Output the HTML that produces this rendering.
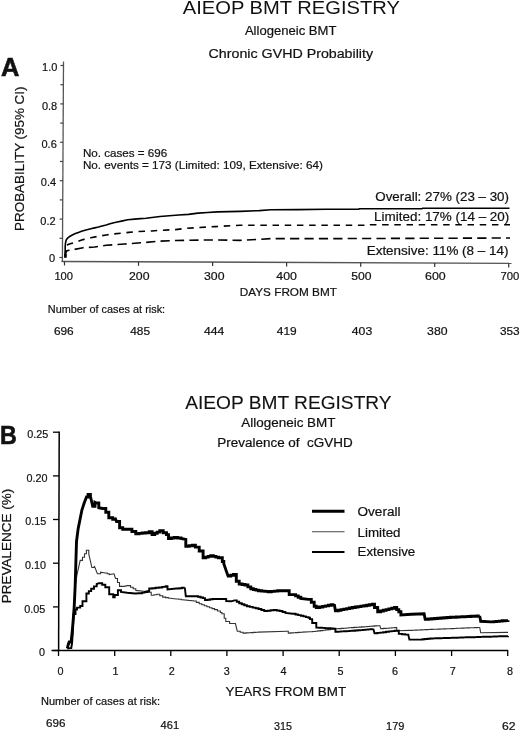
<!DOCTYPE html>
<html><head><meta charset="utf-8"><title>AIEOP BMT Registry</title>
<style>
html,body{margin:0;padding:0;background:#fff;}
svg{display:block;will-change:transform;}
text{font-family:'Liberation Sans', sans-serif;fill:#111;white-space:pre;stroke:#111;stroke-width:0.2px;}
</style></head>
<body>
<svg width="520" height="731" viewBox="0 0 520 731">

<text x="182.8" y="14.1" font-size="17.8" textLength="217.1" lengthAdjust="spacingAndGlyphs" style="stroke-width:0">AIEOP BMT REGISTRY</text>
<text x="244.9" y="34.8" font-size="13" textLength="91.6" lengthAdjust="spacingAndGlyphs">Allogeneic BMT</text>
<text x="208.6" y="57.5" font-size="12.5" textLength="164.5" lengthAdjust="spacingAndGlyphs">Chronic GVHD Probability</text>
<text x="1.0" y="76.0" font-size="26.6" font-weight="bold" textLength="18.4" lengthAdjust="spacingAndGlyphs" style="stroke-width:0.6px">A</text>
<g transform="translate(24.3,230.9) rotate(-90)"><text x="0.0" y="0.0" font-size="13.2" textLength="144.4" lengthAdjust="spacingAndGlyphs">PROBABILITY (95% CI)</text></g>
<line x1="63.5" y1="61.5" x2="62.4" y2="262" stroke="#555" stroke-width="1.3"/>
<line x1="61.5" y1="261.5" x2="511.5" y2="263.4" stroke="#555" stroke-width="1.4"/>
<line x1="59.4" y1="257.5" x2="62.4" y2="257.5" stroke="#444" stroke-width="1.2"/>
<line x1="59.5" y1="238.3" x2="62.5" y2="238.3" stroke="#444" stroke-width="1.2"/>
<line x1="59.6" y1="219.1" x2="62.6" y2="219.1" stroke="#444" stroke-width="1.2"/>
<line x1="59.7" y1="199.9" x2="62.7" y2="199.9" stroke="#444" stroke-width="1.2"/>
<line x1="59.8" y1="180.7" x2="62.8" y2="180.7" stroke="#444" stroke-width="1.2"/>
<line x1="60.0" y1="161.5" x2="63.0" y2="161.5" stroke="#444" stroke-width="1.2"/>
<line x1="60.1" y1="142.3" x2="63.1" y2="142.3" stroke="#444" stroke-width="1.2"/>
<line x1="60.2" y1="123.1" x2="63.2" y2="123.1" stroke="#444" stroke-width="1.2"/>
<line x1="60.3" y1="103.9" x2="63.3" y2="103.9" stroke="#444" stroke-width="1.2"/>
<line x1="60.4" y1="84.7" x2="63.4" y2="84.7" stroke="#444" stroke-width="1.2"/>
<line x1="60.5" y1="65.5" x2="63.5" y2="65.5" stroke="#444" stroke-width="1.2"/>
<text x="57.4" y="71.1" font-size="11" text-anchor="end">1.0</text>
<text x="57.2" y="109.5" font-size="11" text-anchor="end">0.8</text>
<text x="56.8" y="147.9" font-size="11" text-anchor="end">0.6</text>
<text x="56.1" y="186.3" font-size="11" text-anchor="end">0.4</text>
<text x="55.6" y="224.7" font-size="11" text-anchor="end">0.2</text>
<text x="55.2" y="262.3" font-size="11" text-anchor="end">0</text>
<line x1="64.5" y1="261.5" x2="64.5" y2="265.5" stroke="#333" stroke-width="1.2"/>
<line x1="138.5" y1="261.8" x2="138.5" y2="265.8" stroke="#333" stroke-width="1.2"/>
<line x1="212.6" y1="262.1" x2="212.6" y2="266.1" stroke="#333" stroke-width="1.2"/>
<line x1="286.6" y1="262.5" x2="286.6" y2="266.5" stroke="#333" stroke-width="1.2"/>
<line x1="360.7" y1="262.8" x2="360.7" y2="266.8" stroke="#333" stroke-width="1.2"/>
<line x1="434.7" y1="263.1" x2="434.7" y2="267.1" stroke="#333" stroke-width="1.2"/>
<line x1="508.7" y1="263.4" x2="508.7" y2="267.4" stroke="#333" stroke-width="1.2"/>
<text x="54.4" y="280.0" font-size="11" textLength="18.6" lengthAdjust="spacingAndGlyphs">100</text>
<text x="129.0" y="280.0" font-size="11" textLength="20.5" lengthAdjust="spacingAndGlyphs">200</text>
<text x="204.0" y="280.0" font-size="11" textLength="20.5" lengthAdjust="spacingAndGlyphs">300</text>
<text x="276.3" y="280.0" font-size="11" textLength="20.6" lengthAdjust="spacingAndGlyphs">400</text>
<text x="351.3" y="280.0" font-size="11" textLength="20.3" lengthAdjust="spacingAndGlyphs">500</text>
<text x="425.0" y="280.0" font-size="11" textLength="20.7" lengthAdjust="spacingAndGlyphs">600</text>
<text x="500.4" y="280.0" font-size="11" textLength="18.8" lengthAdjust="spacingAndGlyphs">700</text>
<text x="239.8" y="296.2" font-size="11" textLength="97.1" lengthAdjust="spacingAndGlyphs">DAYS FROM BMT</text>
<text x="47.8" y="312.6" font-size="10.5" textLength="117.3" lengthAdjust="spacingAndGlyphs">Number of cases at risk:</text>
<text x="53.9" y="335.2" font-size="10.5" textLength="19.8" lengthAdjust="spacingAndGlyphs">696</text>
<text x="130.2" y="335.2" font-size="10.5" textLength="19.8" lengthAdjust="spacingAndGlyphs">485</text>
<text x="204.1" y="335.2" font-size="10.5" textLength="20.3" lengthAdjust="spacingAndGlyphs">444</text>
<text x="276.8" y="335.2" font-size="10.5" textLength="19.9" lengthAdjust="spacingAndGlyphs">419</text>
<text x="351.8" y="335.2" font-size="10.5" textLength="20.4" lengthAdjust="spacingAndGlyphs">403</text>
<text x="427.1" y="335.2" font-size="10.5" textLength="20.5" lengthAdjust="spacingAndGlyphs">380</text>
<text x="499.9" y="335.2" font-size="10.5" textLength="19.7" lengthAdjust="spacingAndGlyphs">353</text>
<text x="82.9" y="156.9" font-size="11" textLength="84.4" lengthAdjust="spacingAndGlyphs">No. cases = 696</text>
<text x="82.9" y="169.2" font-size="11" textLength="240.1" lengthAdjust="spacingAndGlyphs">No. events = 173 (Limited: 109, Extensive: 64)</text>
<text x="375.3" y="200.9" font-size="12.2" textLength="133.7" lengthAdjust="spacingAndGlyphs">Overall: 27% (23 – 30)</text>
<text x="374.1" y="221.3" font-size="12.2" textLength="135.2" lengthAdjust="spacingAndGlyphs">Limited: 17% (14 – 20)</text>
<text x="366.7" y="255.0" font-size="12.2" textLength="141.8" lengthAdjust="spacingAndGlyphs">Extensive: 11% (8 – 14)</text>
<polyline points="65.2,257.5 65.2,246.0 65.5,243.0 66.2,240.0 67.5,238.2 69.2,236.8 72.3,235.0 75.4,233.6 78.5,232.4 81.5,231.3 86.0,230.0 90.8,228.8 94.6,227.9 98.5,227.0 102.0,226.0 106.2,225.0 110.0,223.8 113.8,222.8 117.3,222.0 121.5,221.1 127.7,219.7 134.6,219.1 140.4,218.6 146.1,218.3 151.9,217.5 160.0,216.5 169.2,215.8 178.8,215.0 188.5,214.4 198.0,213.1 207.7,212.5 217.3,211.9 240.0,211.4 259.2,210.6 270.8,209.7 297.7,209.6 326.5,209.3 358.8,209.3 359.0,208.8 422.0,208.8 422.5,208.3 509.5,208.3" fill="none" stroke="#000" stroke-width="1.6" stroke-linejoin="round"/>
<polyline points="65.5,257.0 65.5,250.0 66.2,246.0 68.0,244.5 71.0,243.5 75.4,242.3 79.0,241.0 83.1,239.6 90.8,237.8 97.7,236.4 106.2,235.0 113.0,234.0 121.5,233.1 128.8,232.4 136.9,231.6 151.9,231.0 158.8,230.4 175.5,229.6 187.4,228.2 215.0,226.6 240.0,225.2 370.0,225.2 370.5,224.7 510.0,224.7" fill="none" stroke="#000" stroke-width="1.6" stroke-dasharray="6.5 5.7"/>
<polyline points="65.5,257.0 65.5,253.5 66.0,252.3 66.9,250.8 70.8,250.0 73.8,249.5 83.1,247.7 94.6,247.0 106.2,245.3 124.7,244.0 140.8,242.8 159.3,241.2 175.5,240.5 215.0,239.9 240.0,240.4 259.2,239.4 270.8,238.6 340.0,238.6 510.0,238.0" fill="none" stroke="#000" stroke-width="1.6" stroke-dasharray="9.2 5.2"/>
<rect x="64.2" y="253.8" width="2.4" height="4" fill="#000"/>
<text x="185.2" y="408.8" font-size="18" textLength="206.4" lengthAdjust="spacingAndGlyphs" style="stroke-width:0.1px">AIEOP BMT REGISTRY</text>
<text x="241.3" y="426.5" font-size="12.6" textLength="94.2" lengthAdjust="spacingAndGlyphs">Allogeneic BMT</text>
<text x="217.3" y="447.3" font-size="12" textLength="135.4" lengthAdjust="spacingAndGlyphs">Prevalence of  cGVHD</text>
<text x="0.1" y="443.7" font-size="25.3" font-weight="bold" textLength="16.8" lengthAdjust="spacingAndGlyphs" style="stroke-width:0.6px">B</text>
<g transform="translate(11.2,603.2) rotate(-90)"><text x="0.0" y="0.0" font-size="12.6" textLength="114.5" lengthAdjust="spacingAndGlyphs">PREVALENCE (%)</text></g>
<line x1="59.2" y1="431.5" x2="58.6" y2="651" stroke="#000" stroke-width="1.5"/>
<line x1="51.5" y1="650.5" x2="508.2" y2="650.5" stroke="#000" stroke-width="1.5"/>
<line x1="53" y1="650.5" x2="59" y2="650.5" stroke="#000" stroke-width="1.3"/>
<line x1="53" y1="606.9" x2="59" y2="606.9" stroke="#000" stroke-width="1.3"/>
<line x1="53" y1="563.2" x2="59" y2="563.2" stroke="#000" stroke-width="1.3"/>
<line x1="53" y1="519.5" x2="59" y2="519.5" stroke="#000" stroke-width="1.3"/>
<line x1="53" y1="475.9" x2="59" y2="475.9" stroke="#000" stroke-width="1.3"/>
<line x1="53" y1="432.2" x2="59" y2="432.2" stroke="#000" stroke-width="1.3"/>
<text x="48.3" y="437.8" font-size="10.8" text-anchor="end">0.25</text>
<text x="47.6" y="481.5" font-size="10.8" text-anchor="end">0.20</text>
<text x="46.2" y="525.4" font-size="10.8" text-anchor="end">0.15</text>
<text x="45.9" y="569.2" font-size="10.8" text-anchor="end">0.10</text>
<text x="45.2" y="613.1" font-size="10.8" text-anchor="end">0.05</text>
<text x="44.9" y="655.9" font-size="10.8" text-anchor="end">0</text>
<line x1="58.5" y1="650.5" x2="58.5" y2="656" stroke="#000" stroke-width="1.3"/>
<line x1="114.7" y1="650.5" x2="114.7" y2="656" stroke="#000" stroke-width="1.3"/>
<line x1="170.8" y1="650.5" x2="170.8" y2="656" stroke="#000" stroke-width="1.3"/>
<line x1="226.9" y1="650.5" x2="226.9" y2="656" stroke="#000" stroke-width="1.3"/>
<line x1="283.1" y1="650.5" x2="283.1" y2="656" stroke="#000" stroke-width="1.3"/>
<line x1="339.2" y1="650.5" x2="339.2" y2="656" stroke="#000" stroke-width="1.3"/>
<line x1="395.4" y1="650.5" x2="395.4" y2="656" stroke="#000" stroke-width="1.3"/>
<line x1="451.6" y1="650.5" x2="451.6" y2="656" stroke="#000" stroke-width="1.3"/>
<line x1="507.7" y1="650.5" x2="507.7" y2="656" stroke="#000" stroke-width="1.3"/>
<text x="60.5" y="675.4" font-size="10.8" text-anchor="middle">0</text>
<text x="115.5" y="675.4" font-size="10.8" text-anchor="middle">1</text>
<text x="171.8" y="675.4" font-size="10.8" text-anchor="middle">2</text>
<text x="226.7" y="675.4" font-size="10.8" text-anchor="middle">3</text>
<text x="283.5" y="675.4" font-size="10.8" text-anchor="middle">4</text>
<text x="340.4" y="675.4" font-size="10.8" text-anchor="middle">5</text>
<text x="394.9" y="675.4" font-size="10.8" text-anchor="middle">6</text>
<text x="452.7" y="675.4" font-size="10.8" text-anchor="middle">7</text>
<text x="509.9" y="675.4" font-size="10.8" text-anchor="middle">8</text>
<text x="225.5" y="695.6" font-size="12.4" textLength="120.6" lengthAdjust="spacingAndGlyphs">YEARS FROM BMT</text>
<text x="41.0" y="704.8" font-size="10.5" textLength="119.0" lengthAdjust="spacingAndGlyphs">Number of cases at risk:</text>
<text x="45.9" y="727.3" font-size="10.5" textLength="19.5" lengthAdjust="spacingAndGlyphs">696</text>
<text x="160.6" y="728.8" font-size="10.5" textLength="18.6" lengthAdjust="spacingAndGlyphs">461</text>
<text x="273.9" y="729.5" font-size="10.5" textLength="18.0" lengthAdjust="spacingAndGlyphs">315</text>
<text x="386.1" y="730.0" font-size="10.5" textLength="18.3" lengthAdjust="spacingAndGlyphs">179</text>
<text x="502.0" y="730.0" font-size="10.5" textLength="13.5" lengthAdjust="spacingAndGlyphs">62</text>
<line x1="312" y1="511.25" x2="344.5" y2="511.25" stroke="#000" stroke-width="2.8"/>
<line x1="312" y1="531.75" x2="344.5" y2="531.75" stroke="#333" stroke-width="0.9"/>
<line x1="312" y1="552" x2="344.5" y2="552" stroke="#000" stroke-width="1.9"/>
<text x="357.5" y="516.2" font-size="12.3" textLength="43.0" lengthAdjust="spacingAndGlyphs">Overall</text>
<text x="357.5" y="536.6" font-size="12.3" textLength="43.0" lengthAdjust="spacingAndGlyphs">Limited</text>
<text x="357.5" y="556.3" font-size="12.3" textLength="57.8" lengthAdjust="spacingAndGlyphs">Extensive</text>
<polyline points="68.2,648.5 71.5,648.5 71.5,647.0 72.6,632.0 73.8,615.0 75.4,585.0 77.0,574.6 80.2,560.4 82.5,560.4 82.5,557.3 84.5,557.3 84.5,553.8 86.4,553.8 86.4,550.2 88.8,550.2 88.8,554.2 91.9,567.5 94.3,567.5 94.3,565.9 97.4,573.8 100.6,573.8 100.6,572.2 105.3,573.0 107.2,573.0 107.2,573.8 109.2,573.8 109.2,574.6 114.0,573.8 115.5,578.5 117.5,578.5 117.5,582.5 119.5,582.5 119.5,586.4 124.2,586.4 127.3,585.6 130.5,585.6 130.5,587.2 133.2,587.2 133.2,588.8 135.8,588.8 135.8,590.4 143.5,591.3 147.3,591.3 147.3,592.3 151.2,592.3 151.2,595.2 154.1,595.2 154.1,594.7 156.9,594.7 156.9,594.2 159.8,594.2 159.8,595.7 162.7,595.7 162.7,597.1 165.6,597.1 165.6,597.6 168.5,597.6 168.5,598.1 176.2,599.0 178.7,599.0 178.7,599.3 181.3,599.3 181.3,599.7 183.8,599.7 183.8,600.0 186.2,600.0 186.2,600.2 188.7,600.2 188.7,600.5 191.1,600.5 191.1,600.8 193.5,600.8 193.5,601.0 196.3,601.0 196.3,602.4 199.2,602.4 199.2,603.8 201.8,603.8 201.8,604.8 204.3,604.8 204.3,605.7 206.9,605.7 206.9,606.7 209.5,606.7 209.5,607.7 212.0,607.7 212.0,608.6 214.6,608.6 214.6,609.6 217.5,609.6 217.5,611.0 220.4,611.0 220.4,612.5 221.9,612.5 221.9,613.8 224.2,613.8 224.2,618.3 225.8,618.3 225.8,621.5 229.6,621.5 229.6,623.5 235.4,623.5 237.3,631.2 240.2,631.2 240.2,632.2 243.1,632.2 243.1,633.1 245.7,633.1 245.7,632.9 248.2,632.9 248.2,632.8 250.8,632.8 250.8,632.6 253.4,632.6 253.4,632.4 255.9,632.4 255.9,632.3 258.5,632.3 258.5,632.1 287.3,631.2 288.3,631.2 288.3,633.1 290.7,633.1 290.7,632.9 293.1,632.9 293.1,632.8 295.5,632.8 295.5,632.6 297.9,632.6 297.9,632.4 300.3,632.4 300.3,632.3 302.7,632.3 302.7,632.1 310.0,631.8 312.6,631.8 312.6,631.5 315.2,631.5 315.2,631.2 317.8,631.2 317.8,630.9 320.4,630.9 320.4,630.6 322.9,630.6 322.9,630.2 325.5,630.2 325.5,629.9 328.1,629.9 328.1,629.6 330.7,629.6 330.7,629.3 333.3,629.3 333.3,629.0 335.9,629.0 335.9,628.8 338.5,628.8 338.5,628.6 341.1,628.6 341.1,628.4 343.6,628.4 343.6,628.2 346.2,628.2 346.2,628.0 348.8,628.0 348.8,627.8 351.4,627.8 351.4,627.6 354.0,627.6 354.0,627.4 356.6,627.4 356.6,627.2 359.1,627.2 359.1,627.1 361.7,627.1 361.7,626.9 364.3,626.9 364.3,626.7 366.9,626.7 366.9,626.5 369.5,626.5 369.5,626.3 372.1,626.3 372.1,626.1 374.6,626.1 374.6,625.9 377.2,625.9 377.2,625.7 379.8,625.7 379.8,625.5 380.8,628.6 383.6,628.6 383.6,628.4 386.3,628.4 386.3,628.2 389.1,628.2 389.1,628.0 391.8,628.0 391.8,627.8 394.6,627.8 394.6,627.6 396.7,627.6 396.7,630.7 410.0,630.4 412.5,630.4 412.5,630.3 415.1,630.3 415.1,630.1 417.6,630.1 417.6,630.0 420.1,630.0 420.1,629.9 422.6,629.9 422.6,629.8 425.1,629.8 425.1,629.6 427.7,629.6 427.7,629.5 430.2,629.5 430.2,629.4 432.8,629.4 432.8,629.3 435.4,629.3 435.4,629.2 438.0,629.2 438.0,629.1 440.6,629.1 440.6,629.0 443.2,629.0 443.2,628.9 445.8,628.9 445.8,628.8 448.4,628.8 448.4,628.7 451.0,628.7 451.0,628.6 453.6,628.6 453.6,628.5 456.3,628.5 456.3,628.3 458.9,628.3 458.9,628.2 461.5,628.2 461.5,628.1 464.1,628.1 464.1,628.0 466.7,628.0 466.7,627.9 469.3,627.9 469.3,627.8 471.9,627.8 471.9,627.7 474.5,627.7 474.5,627.6 477.1,627.6 477.1,627.5 479.7,627.5 479.7,627.4 480.7,632.8 508.0,632.4" fill="none" stroke="#333" stroke-width="1.1" stroke-linejoin="miter"/>
<polyline points="67.3,648.6 71.3,648.0 72.2,642.0 72.8,630.0 73.6,614.0 75.5,614.0 75.5,609.5 77.0,609.5 77.0,607.6 80.2,607.6 80.2,606.0 82.5,606.0 82.5,601.3 86.4,601.3 86.4,593.5 88.8,593.5 88.8,591.1 91.2,591.1 91.2,588.7 94.0,588.7 94.0,586.4 96.7,586.4 96.7,584.0 99.0,583.2 102.2,583.2 102.2,584.8 105.3,584.8 105.3,587.2 109.2,587.2 109.2,594.2 113.2,594.2 113.2,597.4 114.7,597.4 114.7,595.0 117.9,595.0 117.9,590.3 121.0,590.3 121.0,591.9 127.3,592.7 135.0,593.5 139.6,593.3 142.2,593.3 142.2,592.6 144.7,592.6 144.7,592.0 147.3,592.0 147.3,591.3 149.2,591.3 149.2,588.5 152.4,588.5 152.4,588.2 155.6,588.2 155.6,587.8 158.8,587.8 158.8,587.5 162.2,587.5 162.2,586.9 165.6,586.9 165.6,586.2 167.5,586.2 167.5,589.4 176.2,588.5 179.1,588.5 179.1,588.2 181.9,588.2 181.9,587.8 184.8,587.8 184.8,587.5 185.8,596.2 195.4,596.2 198.0,596.2 198.0,596.8 200.5,596.8 200.5,597.5 203.1,597.5 203.1,598.1 205.0,598.1 205.0,600.0 207.6,600.0 207.6,599.7 210.1,599.7 210.1,599.3 212.7,599.3 212.7,599.0 224.2,599.0 226.2,599.0 226.2,601.0 231.5,601.3 234.4,600.4 236.8,600.4 236.8,601.8 239.2,601.8 239.2,603.3 241.8,603.3 241.8,604.3 244.3,604.3 244.3,605.2 246.9,605.2 246.9,606.2 249.8,606.2 249.8,606.9 252.7,606.9 252.7,607.6 255.6,607.6 255.6,608.3 258.5,608.3 258.5,609.0 261.4,609.0 261.4,610.0 264.2,610.0 264.2,611.0 267.4,611.0 267.4,610.7 270.6,610.7 270.6,610.3 273.8,610.3 273.8,610.0 276.7,610.0 276.7,610.5 279.6,610.5 279.6,611.0 282.5,611.0 282.5,612.0 285.4,612.0 285.4,612.9 293.0,613.8 295.6,613.8 295.6,614.5 298.2,614.5 298.2,615.1 300.8,615.1 300.8,615.8 303.4,615.8 303.4,616.4 305.9,616.4 305.9,617.1 308.5,617.1 308.5,617.7 310.0,617.7 310.0,619.1 312.2,619.1 312.2,623.0 316.3,623.0 316.3,627.6 319.1,627.6 319.1,627.8 322.0,627.8 322.0,627.9 324.8,627.9 324.8,628.1 327.6,628.1 327.6,628.3 330.5,628.3 330.5,628.4 333.3,628.4 333.3,628.6 335.4,628.6 335.4,631.8 338.2,631.8 338.2,631.6 341.0,631.6 341.0,631.4 343.9,631.4 343.9,631.2 346.7,631.2 346.7,631.1 349.5,631.1 349.5,630.9 352.3,630.9 352.3,630.7 354.9,630.7 354.9,630.5 357.6,630.5 357.6,630.3 360.2,630.3 360.2,630.1 362.9,630.1 362.9,629.9 365.5,629.9 365.5,629.6 368.1,629.6 368.1,629.4 370.8,629.4 370.8,629.2 373.4,629.2 373.4,629.0 374.5,633.3 377.4,633.3 377.4,632.9 380.2,632.9 380.2,632.6 383.1,632.6 383.1,632.2 386.0,632.2 386.0,631.8 388.9,631.8 388.9,631.4 391.7,631.4 391.7,631.1 394.6,631.1 394.6,630.7 398.8,630.7 398.8,633.9 402.0,633.9 402.0,634.3 405.1,634.3 405.1,634.6 408.3,634.6 408.3,635.0 409.4,639.6 420.0,639.6 422.6,639.6 422.6,639.3 425.1,639.3 425.1,639.0 427.6,639.0 427.6,638.8 430.2,638.8 430.2,638.5 433.0,638.5 433.0,638.4 435.7,638.4 435.7,638.3 438.5,638.3 438.5,638.2 441.2,638.2 441.2,638.1 444.0,638.1 444.0,638.0 446.7,638.0 446.7,638.0 449.5,638.0 449.5,637.9 452.2,637.9 452.2,637.8 455.0,637.8 455.0,637.7 457.7,637.7 457.7,637.6 460.5,637.6 460.5,637.5 463.3,637.5 463.3,637.4 466.1,637.4 466.1,637.3 468.9,637.3 468.9,637.3 471.7,637.3 471.7,637.2 474.5,637.2 474.5,637.1 477.3,637.1 477.3,637.0 480.1,637.0 480.1,636.9 482.9,636.9 482.9,636.8 485.6,636.8 485.6,636.8 488.4,636.8 488.4,636.7 491.2,636.7 491.2,636.6 494.0,636.6 494.0,636.5 496.8,636.5 496.8,636.4 499.6,636.4 499.6,636.3 502.4,636.3 502.4,636.3 505.2,636.3 505.2,636.2 508.0,636.2 508.0,636.1" fill="none" stroke="#000" stroke-width="1.9" stroke-linejoin="miter"/>
<polyline points="67.3,648.3 68.3,644.5 69.2,642.0 71.2,642.0 71.2,641.0 72.2,632.0 73.2,620.0 74.2,607.0 75.2,585.0 76.5,541.5 78.1,529.0 79.6,521.5 81.9,510.0 84.2,503.0 86.5,497.0 88.1,497.0 88.1,494.4 90.4,494.4 90.4,496.2 92.7,506.2 95.0,506.2 95.0,502.3 96.5,503.0 98.8,503.0 98.8,507.7 102.7,508.5 105.8,508.5 105.8,512.3 108.8,512.3 108.8,517.7 112.7,517.7 112.7,519.2 115.0,519.2 115.0,517.7 116.5,521.5 119.6,521.5 119.6,527.7 122.7,527.7 122.7,529.2 128.8,529.2 131.9,529.2 131.9,531.5 135.8,531.5 135.8,533.7 139.0,533.7 139.0,533.4 142.2,533.4 142.2,533.0 145.4,533.0 145.4,532.7 149.2,532.7 149.2,531.7 152.1,531.7 152.1,534.6 154.7,534.6 154.7,533.3 157.2,533.3 157.2,532.1 159.8,532.1 159.8,530.8 163.2,530.8 163.2,532.7 166.5,532.7 166.5,534.6 168.5,534.6 168.5,538.5 171.3,538.5 171.3,538.0 174.2,538.0 174.2,537.5 177.6,537.5 177.6,538.0 181.0,538.0 181.0,538.5 185.8,539.4 185.8,546.2 189.2,546.2 189.2,545.7 192.5,545.7 192.5,545.2 195.4,545.2 195.4,547.1 199.2,547.1 199.2,551.0 203.1,551.0 203.1,557.7 205.7,557.7 205.7,557.1 208.2,557.1 208.2,556.4 210.8,556.4 210.8,555.8 213.4,555.8 213.4,556.4 215.9,556.4 215.9,557.1 218.5,557.1 218.5,557.7 222.3,557.7 222.3,561.5 223.8,561.5 223.8,563.8 225.8,569.6 228.1,576.0 230.8,576.0 230.8,575.2 233.5,575.2 233.5,574.4 236.3,574.4 236.3,581.2 239.2,581.2 239.2,584.0 242.1,584.0 242.1,584.5 245.0,584.5 245.0,585.0 247.9,585.0 247.9,586.9 250.8,586.9 250.8,588.8 253.4,588.8 253.4,589.5 255.9,589.5 255.9,590.1 258.5,590.1 258.5,590.8 261.7,590.8 261.7,591.1 264.9,591.1 264.9,591.4 268.1,591.4 268.1,591.7 271.3,591.7 271.3,591.4 274.5,591.4 274.5,591.1 277.7,591.1 277.7,590.8 286.3,590.8 289.2,590.8 289.2,594.6 293.0,594.6 295.6,594.6 295.6,595.9 298.2,595.9 298.2,597.2 300.8,597.2 300.8,598.5 308.5,599.4 311.3,599.4 311.3,602.3 314.2,602.3 314.2,606.2 316.3,606.2 316.3,607.5 319.5,607.5 319.5,607.0 322.7,607.0 322.7,606.4 325.6,606.4 325.6,605.9 328.5,605.9 328.5,605.3 331.4,605.3 331.4,604.8 334.3,604.8 334.3,604.3 335.4,610.7 338.2,610.7 338.2,610.2 341.0,610.2 341.0,609.6 343.9,609.6 343.9,609.1 346.7,609.1 346.7,608.6 349.5,608.6 349.5,608.0 352.3,608.0 352.3,607.5 355.2,607.5 355.2,607.0 358.0,607.0 358.0,606.6 360.9,606.6 360.9,606.1 363.8,606.1 363.8,605.7 366.7,605.7 366.7,605.2 369.5,605.2 369.5,604.8 372.4,604.8 372.4,604.3 374.5,604.3 374.5,607.5 377.7,607.5 377.7,611.7 380.5,611.7 380.5,611.0 383.3,611.0 383.3,610.3 386.1,610.3 386.1,609.6 388.9,609.6 388.9,608.9 391.8,608.9 391.8,608.2 394.6,608.2 394.6,607.5 396.7,607.5 396.7,609.6 398.8,609.6 398.8,611.7 400.9,611.7 400.9,614.9 411.5,614.2 424.1,613.8 425.2,619.3 428.3,619.3 428.3,619.0 431.5,619.0 431.5,618.8 434.6,618.8 434.6,618.5 437.8,618.5 437.8,618.3 440.9,618.3 440.9,618.0 444.1,618.0 444.1,617.8 447.2,617.8 447.2,617.5 450.4,617.5 450.4,617.3 453.3,617.3 453.3,617.2 456.3,617.2 456.3,617.0 459.2,617.0 459.2,616.9 462.1,616.9 462.1,616.7 465.0,616.7 465.0,616.6 468.0,616.6 468.0,616.5 470.9,616.5 470.9,616.3 473.8,616.3 473.8,616.2 476.8,616.2 476.8,616.0 479.7,616.0 479.7,615.9 480.7,621.3 490.8,621.9 493.7,621.9 493.7,621.6 496.5,621.6 496.5,621.4 499.4,621.4 499.4,621.1 502.3,621.1 502.3,620.8 505.1,620.8 505.1,620.6 508.0,620.6 508.0,620.3" fill="none" stroke="#000" stroke-width="2.9" stroke-linejoin="miter"/>
</svg>
</body></html>
